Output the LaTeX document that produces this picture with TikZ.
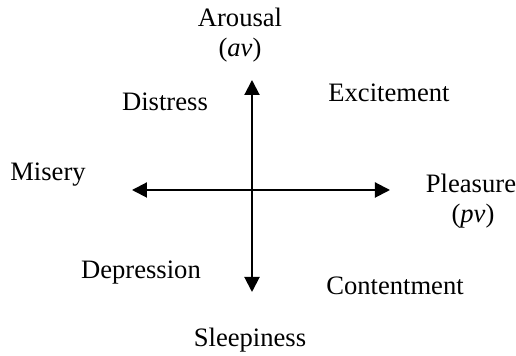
\documentclass[tikz,border=0pt]{standalone}
\usepackage{fontspec}
\setmainfont{Liberation Serif}
\usetikzlibrary{arrows.meta}

\begin{document}
\begin{tikzpicture}[x=0.5pt,y=-0.5pt,
    lbl/.style={font=\fontsize{13.3}{16}\selectfont, inner sep=0pt},
    axis/.style={line width=1pt, {Triangle[length=7.5pt,width=7.5pt]}-{Triangle[length=7.5pt,width=7.5pt]}}]
            \useasboundingbox (0,0) rectangle (516,356);
            \coordinate (top) at (252,80);
            \coordinate (bottom) at (252,292);
            \coordinate (left) at (132,190);
            \coordinate (right) at (390,190);
            \draw[axis] (bottom)--(top);
            \draw[axis] (left)--(right);
            \node[lbl] (arousal) at (240,17) {Arousal};
            \node[lbl] (av) at (240,50) {(\textit{av})};
            \node[lbl] (distress) at (165,102) {Distress};
            \node[lbl] (excitement) at (389,93) {Excitement};
            \node[lbl] (misery) at (48,175) {Misery};
            \node[lbl] (pleasure) at (471,183) {Pleasure};
            \node[lbl] (pv) at (473,216) {(\textit{pv})};
            \node[lbl] (depression) at (141,273) {Depression};
            \node[lbl] (contentment) at (395,286) {Contentment};
            \node[lbl] (sleepiness) at (250,340) {Sleepiness};
        \end{tikzpicture}
\end{document}
